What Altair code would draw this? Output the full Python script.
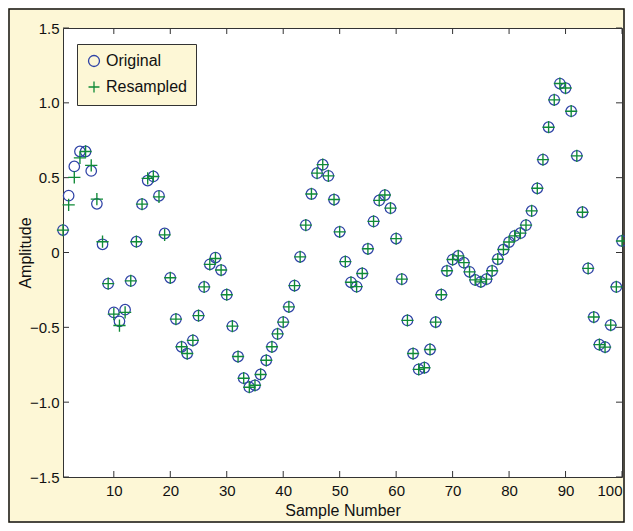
import altair as alt
import pandas as pd

sample = list(range(1, 101))
original = [0.15, 0.38, 0.575, 0.675, 0.675, 0.545, 0.325, 0.055, -0.208, -0.40,
            -0.46, -0.382, -0.19, 0.072, 0.323, 0.481, 0.508, 0.379, 0.127, -0.169,
            -0.445, -0.63, -0.675, -0.587, -0.422, -0.23, -0.079, -0.034, -0.117, -0.282,
            -0.492, -0.695, -0.84, -0.90, -0.887, -0.815, -0.72, -0.63, -0.544, -0.465,
            -0.363, -0.221, -0.029, 0.183, 0.391, 0.530, 0.587, 0.512, 0.354, 0.138,
            -0.061, -0.199, -0.228, -0.14, 0.025, 0.208, 0.348, 0.384, 0.296, 0.093,
            -0.178, -0.454, -0.675, -0.781, -0.77, -0.648, -0.465, -0.282, -0.122, -0.047,
            -0.023, -0.068, -0.129, -0.183, -0.196, -0.178, -0.122, -0.045, 0.02, 0.07,
            0.111, 0.129, 0.183, 0.278, 0.429, 0.621, 0.837, 1.02, 1.129, 1.099,
            0.944, 0.646, 0.269, -0.106, -0.431, -0.616, -0.632, -0.485, -0.23, 0.077]
resampled = [0.15, 0.318, 0.502, 0.632, 0.675, 0.582, 0.357, 0.072, -0.208, -0.412,
             -0.488, -0.40, -0.19, 0.072, 0.323, 0.495, 0.508, 0.372, 0.118, -0.169,
             -0.445, -0.63, -0.675, -0.587, -0.422, -0.23, -0.079, -0.04, -0.117, -0.282,
             -0.492, -0.695, -0.84, -0.90, -0.887, -0.815, -0.72, -0.63, -0.544, -0.465,
             -0.363, -0.221, -0.029, 0.183, 0.391, 0.530, 0.587, 0.512, 0.354, 0.138,
             -0.061, -0.199, -0.228, -0.14, 0.025, 0.208, 0.348, 0.384, 0.296, 0.093,
             -0.178, -0.454, -0.675, -0.781, -0.77, -0.648, -0.465, -0.282, -0.122, -0.047,
             -0.023, -0.068, -0.129, -0.183, -0.196, -0.178, -0.122, -0.045, 0.02, 0.07,
             0.111, 0.129, 0.183, 0.278, 0.429, 0.621, 0.837, 1.02, 1.129, 1.099,
             0.944, 0.646, 0.269, -0.106, -0.431, -0.616, -0.632, -0.485, -0.23, 0.077]
series_names = ["Original", "Resampled"]
x_ticks = [10, 20, 30, 40, 50, 60, 70, 80, 90, 100]
y_ticks = [-1.5, -1.0, -0.5, 0, 0.5, 1.0, 1.5]

W, H = 559, 449
PAD = {"left": 55, "top": 20, "right": 3, "bottom": 46}
BG = "#fdf7d6"
FONT = "Liberation Sans"

df_o = pd.DataFrame({"n": sample, "amp": original, "series": "Original"})
df_r = pd.DataFrame({"n": sample, "amp": resampled, "series": "Resampled"})
xt = pd.DataFrame({"v": x_ticks})
yt = pd.DataFrame({"v": y_ticks})
one = pd.DataFrame({"k": [0]})

xscale = alt.Scale(domain=[1, 100], nice=False, zero=False)
yscale = alt.Scale(domain=[-1.5, 1.5], nice=False, zero=False)
leg = alt.Legend(title=None, orient="none", legendX=14, legendY=16,
                 fillColor=BG, strokeColor="#333333", padding=9, rowPadding=8,
                 labelFontSize=16, labelFont=FONT, labelColor="#111111",
                 symbolSize=120, symbolStrokeWidth=1.3, symbolOpacity=1, labelOffset=4)
color = alt.Color("series:N", scale=alt.Scale(domain=series_names, range=["#2f43a6", "#0f8a36"]), legend=leg)
shape = alt.Shape("series:N", scale=alt.Scale(domain=series_names, range=["circle", "M-1,0H1M0,-1V1"]), legend=leg)

xaxis = alt.Axis(values=x_ticks, title="Sample Number", ticks=False, domain=False, grid=False,
                 labelFontSize=15, labelFont=FONT, labelColor="#111111", labelPadding=6,
                 labelFlush=True,
                 titleFontSize=16, titleFont=FONT, titleFontWeight="normal", titleColor="#111111",
                 titlePadding=4)
yaxis = alt.Axis(values=y_ticks, title="Amplitude", ticks=False, domain=False, grid=False,
                 labelExpr="datum.value == 0 ? '0' : format(datum.value, '.1f')",
                 labelFontSize=15, labelFont=FONT, labelColor="#111111", labelPadding=4,
                 titleFontSize=16, titleFont=FONT, titleFontWeight="normal", titleColor="#111111",
                 titleX=-38, titleY=H / 2, titleAngle=270, titleAlign="center", titleBaseline="middle")

circles = alt.Chart(df_o).mark_point(filled=False, size=110, strokeWidth=1.25, opacity=1).encode(
    x=alt.X("n:Q", scale=xscale, axis=xaxis),
    y=alt.Y("amp:Q", scale=yscale, axis=yaxis),
    color=color, shape=shape)
pluses = alt.Chart(df_r).mark_point(filled=False, size=150, strokeWidth=1.35, opacity=1).encode(
    x=alt.X("n:Q", scale=xscale),
    y=alt.Y("amp:Q", scale=yscale),
    color=color, shape=shape)

tk = dict(color="#333333", strokeWidth=1)
left_t = alt.Chart(yt).mark_rule(**tk).encode(y=alt.Y("v:Q", scale=yscale), x=alt.value(0), x2=alt.value(6))
right_t = alt.Chart(yt).mark_rule(**tk).encode(y=alt.Y("v:Q", scale=yscale), x=alt.value(W), x2=alt.value(W - 6))
bot_t = alt.Chart(xt).mark_rule(**tk).encode(x=alt.X("v:Q", scale=xscale), y=alt.value(H), y2=alt.value(H - 6))
top_t = alt.Chart(xt).mark_rule(**tk).encode(x=alt.X("v:Q", scale=xscale), y=alt.value(0), y2=alt.value(6))

frame = alt.Chart(one).mark_rect(filled=False, stroke="#111111", strokeWidth=1.5).encode(
    x=alt.value(-PAD["left"] + 1), x2=alt.value(W + PAD["right"] - 1),
    y=alt.value(-PAD["top"] + 1), y2=alt.value(H + PAD["bottom"] - 1))

chart = alt.layer(frame, left_t, right_t, bot_t, top_t, circles, pluses).properties(
    width=W, height=H, padding=PAD, autosize=alt.AutoSizeParams(type="none"),
    background=BG
).configure_view(fill="white", stroke="#333333", strokeWidth=1)

chart.save("out.html", embed_options={"renderer": "svg", "actions": False})
